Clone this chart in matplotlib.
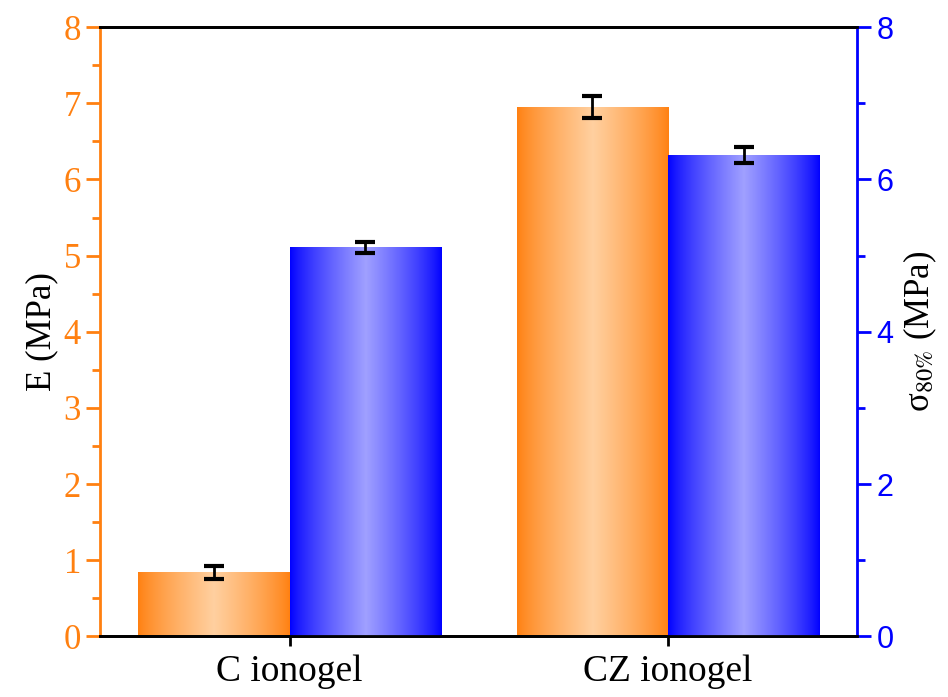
import numpy as np
import matplotlib.pyplot as plt
from matplotlib.colors import to_rgb

plt.rcParams['font.family'] = ['Liberation Serif', 'DejaVu Serif']
plt.rcParams['mathtext.fontset'] = 'stix'

categories = ['C ionogel', 'CZ ionogel']
modulus = [0.84, 6.95]          # E (MPa)
modulus_err = [0.09, 0.14]
stress80 = [5.11, 6.32]         # sigma at 80% strain (MPa)
stress80_err = [0.07, 0.10]

orange = '#FF8010'
orange_light = '#FFD0A0'
blue = '#0000FF'
blue_light = '#A0A0FF'

width = 0.4
x = np.arange(1, len(categories) + 1)


def gradient_bars(ax, xs, heights, edge, light):
    bars = ax.bar(xs, heights, width, align='edge', color='none', edgecolor='none', zorder=2)
    e = np.array(to_rgb(edge))
    c = np.array(to_rgb(light))
    t = np.linspace(0, 1, 256)
    w = np.clip(1 - np.abs(t - 0.5) * 2, 0, 1) ** 0.8
    img = (e[None, :] * (1 - w[:, None]) + c[None, :] * w[:, None])[None, :, :]
    for b in bars:
        x0, y0 = b.get_x(), b.get_y()
        im = ax.imshow(img, extent=[x0, x0 + b.get_width(), y0, y0 + b.get_height()],
                       aspect='auto', zorder=2, interpolation='bilinear')
        im.set_clip_path(b)
    return bars


fig, ax1 = plt.subplots(figsize=(9.48, 6.97), dpi=100)
fig.subplots_adjust(left=0.106, right=0.904, top=0.961, bottom=0.087)
ax2 = ax1.twinx()

gradient_bars(ax1, x - width, modulus, orange, orange_light)
ax1.errorbar(x - width / 2, modulus, yerr=modulus_err, fmt='none', ecolor='black',
             elinewidth=2, capsize=7, capthick=3, zorder=3)
gradient_bars(ax2, x, stress80, blue, blue_light)
ax2.errorbar(x + width / 2, stress80, yerr=stress80_err, fmt='none', ecolor='black',
             elinewidth=2, capsize=7, capthick=3, zorder=3)

for ax in (ax1, ax2):
    ax.set_xlim(0.5, 2.5)
    ax.set_ylim(0, 8)
    for s in ax.spines.values():
        s.set_linewidth(2)

ax1.set_xticks(x)
ax1.set_xticklabels(categories, fontsize=27)
ax1.tick_params(axis='x', length=7, width=2, direction='out', pad=6)

ax1.set_yticks(range(0, 9))
ax1.set_yticks(np.arange(0.5, 8, 1), minor=True)
ax1.tick_params(axis='y', which='major', length=10, width=2, colors=orange, labelsize=25, pad=4)
ax1.tick_params(axis='y', which='minor', length=6, width=2, colors=orange)
ax1.spines['left'].set_color(orange)
ax1.spines['right'].set_visible(False)
ax1.set_ylabel('E (MPa)', fontsize=25, color='black', labelpad=4)

ax2.set_yticks(range(0, 9, 2))
ax2.set_yticks(range(1, 9, 2), minor=True)
ax2.tick_params(axis='y', which='major', length=10, width=2, colors=blue, labelsize=22, pad=4)
ax2.tick_params(axis='y', which='minor', length=6, width=2, colors=blue)
for lab in ax2.get_yticklabels():
    lab.set_family(['Liberation Sans', 'DejaVu Sans'])
ax2.spines['right'].set_color(blue)
ax2.spines['left'].set_visible(False)
ax2.set_ylabel('σ$_{80\\%}$ (MPa)', fontsize=25, color='black', labelpad=6)

fig.savefig('out.png', dpi=100)
